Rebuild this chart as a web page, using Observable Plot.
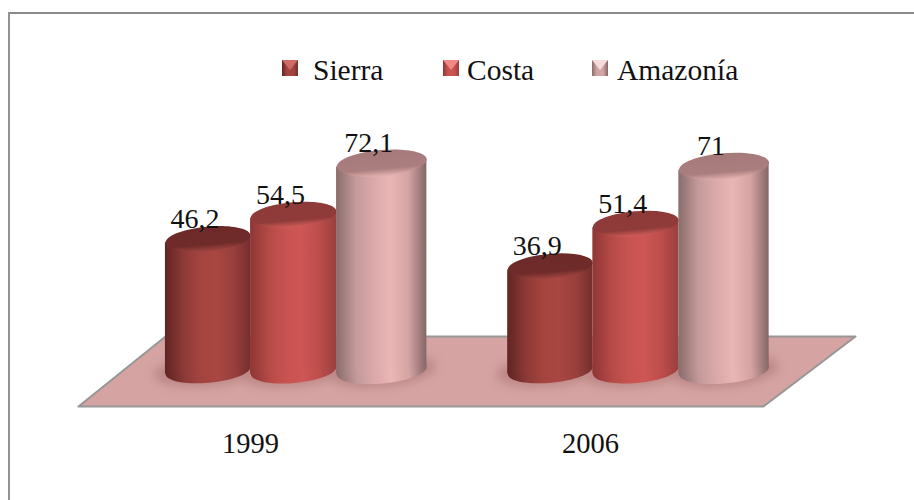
<!DOCTYPE html>
<html>
<head>
<meta charset="utf-8">
<script src="https://cdn.jsdelivr.net/npm/d3@7"></script>
<script src="https://cdn.jsdelivr.net/npm/@observablehq/plot@0.6"></script>
<style>
  html, body { margin: 0; padding: 0; background: #fff; }
  #page { position: relative; width: 914px; height: 500px; overflow: hidden; background: #fff;
          font-family: "Liberation Serif", serif; color: #111; }
  #edgeTop { position: absolute; left: 8px; right: 0; top: 12px; height: 2px; background: #8a8a8a; }
  #edgeLeft { position: absolute; left: 8px; top: 12px; bottom: 0; width: 2px; background: #929292; }
  #legend { position: relative; height: 100px; }
  .swatch { position: absolute; top: 60px; width: 16px; height: 16px; box-sizing: border-box; }
  .swatch i { position: absolute; left: 0; top: 0; width: 16px; height: 10px; clip-path: polygon(0 0, 100% 0, 50% 100%); }
  .lab { position: absolute; top: 52px; font-size: 29.5px; line-height: 36px; white-space: nowrap; }
  svg { display: block; }
</style>
</head>
<body>
<div id="page">
  <div id="edgeTop"></div><div id="edgeLeft"></div>
  <div id="legend"></div>
  <div id="chart"></div>
</div>
<script>
// Data
const years = ["1999", "2006"];
const seriesNames = ["Sierra", "Costa", "Amazonía"];
const sierra = [46.2, 36.9];
const costa = [54.5, 51.4];
const amazonia = [72.1, 71];

// Layout of the pseudo-3D slots (one x unit = one cylinder)
const groupSlot = [0, 3.98];
const seriesSlot = [0, 0.995, 2.02];
const seriesWidth = [0.99, 1, 1.05];
const yearSlot = [0.494, 4.448];
const baseValue = 1.3;
const floorX = [-1.506, 6.459, 7.529, -0.494];
const floorY = [-10.99, -10.99, 12.9, 12.9];

// Colours
const seriesColors = [
  {id: "sierra", stops: ["#602422", "#8d3a37", "#a5443f", "#a84642", "#99403c", "#752f2d"], top: ["#6d2a28", "#6f2b29", "#a04540"], swatch: "#a5443f", tri: "#d06a66"},
  {id: "costa", stops: ["#8f3635", "#b54a47", "#c95351", "#ce5654", "#bd4d4b", "#99403e"], top: ["#8e3a38", "#8f3b39", "#d05c59"], swatch: "#c95351", tri: "#ef8a87"},
  {id: "amazonia", stops: ["#8a6c6c", "#c49a9a", "#dba9a9", "#e9b6b5", "#d6a3a3", "#846666"], top: ["#a67a7a", "#aa7e7e", "#e3b0af"], swatch: "#d3a4a4", tri: "#f7dcdc"}
];
const stopOffsets = [0, 0.22, 0.42, 0.6, 0.8, 1];
const floorFill = "#d4a3a2";
const floorEdge = "#979797";
const shadowFill = "#bc8786";

const table = [];
[sierra, costa, amazonia].forEach((vals, s) => vals.forEach((v, g) => table.push({
  series: s, group: g, value: v, slot: groupSlot[g] + seriesSlot[s], half: seriesWidth[s] / 2
})));
const floor = floorX.map((x, i) => ({x, y: floorY[i]}));

// Ellipse symbol: size gives the horizontal radius
const ellipse = {
  draw(ctx, size) {
    const rx = Math.sqrt(size / Math.PI), ry = rx * 0.29, k = 0.5523;
    ctx.moveTo(-rx, 0);
    ctx.bezierCurveTo(-rx, -ry * k, -rx * k, -ry, 0, -ry);
    ctx.bezierCurveTo(rx * k, -ry, rx, -ry * k, rx, 0);
    ctx.bezierCurveTo(rx, ry * k, rx * k, ry, 0, ry);
    ctx.bezierCurveTo(-rx * k, ry, -rx, ry * k, -rx, 0);
    ctx.closePath();
  }
};
const unitPx = 86;
const valuePx = 2.93;
const tilt = -5;

function defs() {
  const ns = "http://www.w3.org/2000/svg";
  const d = document.createElementNS(ns, "defs");
  const add = (id, horizontal, offsets, colors) => {
    const g = document.createElementNS(ns, "linearGradient");
    g.setAttribute("id", id);
    g.setAttribute("x1", 0); g.setAttribute("y1", 0);
    g.setAttribute("x2", horizontal ? 1 : 0); g.setAttribute("y2", horizontal ? 0 : 1);
    offsets.forEach((o, i) => {
      const s = document.createElementNS(ns, "stop");
      s.setAttribute("offset", o); s.setAttribute("stop-color", colors[i]);
      g.appendChild(s);
    });
    d.appendChild(g);
  };
  seriesColors.forEach(c => {
    add(c.id + "Body", true, stopOffsets, c.stops);
    add(c.id + "Top", false, [0, 0.72, 1], c.top);
  });
  return d;
}

const cylinderMarks = seriesNames.flatMap((_, s) => {
  const rows = table.filter(d => d.series === s);
  const c = seriesColors[s];
  const r = seriesWidth[s] * unitPx / 2;
  // The cylinder's sides end where the tilted end ellipses reach their tips
  const rise = r * Math.sin(-tilt * Math.PI / 180) / valuePx;
  const sides = rows.flatMap(d => [-1, 1].map(side => ({
    group: d.group,
    x: d.slot + side * d.half,
    bottom: baseValue + side * rise,
    top: d.value + side * rise
  })));
  return [
    Plot.dot(rows, {x: "slot", y: () => baseValue, symbol: ellipse, r, rotate: tilt, fill: `url(#${c.id}Body)`, stroke: "none"}),
    Plot.areaY(sides, {x: "x", y1: "bottom", y2: "top", z: "group", fill: `url(#${c.id}Body)`}),
    Plot.dot(rows, {x: "slot", y: "value", symbol: ellipse, r, rotate: tilt, fill: `url(#${c.id}Top)`, stroke: "none"})
  ];
});

const chart = Plot.plot({
  width: 914,
  height: 400,
  marginTop: 0, marginRight: 0, marginBottom: 70, marginLeft: 0,
  x: {domain: [-207.5 / unitPx, (914 - 207.5) / unitPx], range: [0, 914], axis: null},
  y: {domain: [-19.18, 93.45], range: [330, 0], axis: null},
  style: {fontFamily: "'Liberation Serif', serif", fontSize: "28px", color: "#111", background: "transparent", overflow: "visible"},
  marks: [
    defs,
    Plot.line(floor, {x: "x", y: "y", curve: "linear-closed", fill: floorFill, stroke: floorEdge, strokeWidth: 2}),
    Plot.dot(table, {x: "slot", y: () => baseValue, symbol: ellipse, r: 54, rotate: tilt, fill: shadowFill, stroke: "none", imageFilter: "blur(5px)"}),
    ...cylinderMarks,
    Plot.text(table, {
      x: "slot", y: "value",
      text: d => String(d.value).replace(".", ","),
      dx: -13, dy: -11, lineAnchor: "bottom", fontSize: 28, fill: "#111", textAnchor: "middle"
    }),
    Plot.axisX({
      anchor: "bottom", ticks: yearSlot, tickFormat: (d, i) => years[i],
      tickSize: 0, tickPadding: 2, label: null, fontSize: 28.5, fill: "#111"
    })
  ]
});
document.getElementById("chart").appendChild(chart);

// Legend
const legend = document.getElementById("legend");
const swatchLeft = [282, 443, 592];
const labelLeft = [313, 467, 617];
seriesNames.forEach((name, s) => {
  const c = seriesColors[s];
  const sw = document.createElement("div");
  sw.className = "swatch";
  sw.style.left = swatchLeft[s] + "px";
  sw.style.background = `linear-gradient(90deg, ${c.stops[0]}, ${c.swatch} 30%, ${c.swatch} 70%, ${c.stops[5]})`;
  const tri = document.createElement("i");
  tri.style.background = c.tri;
  sw.appendChild(tri);
  legend.appendChild(sw);
  const lab = document.createElement("div");
  lab.className = "lab";
  lab.style.left = labelLeft[s] + "px";
  lab.textContent = name;
  legend.appendChild(lab);
});
</script>
</body>
</html>
